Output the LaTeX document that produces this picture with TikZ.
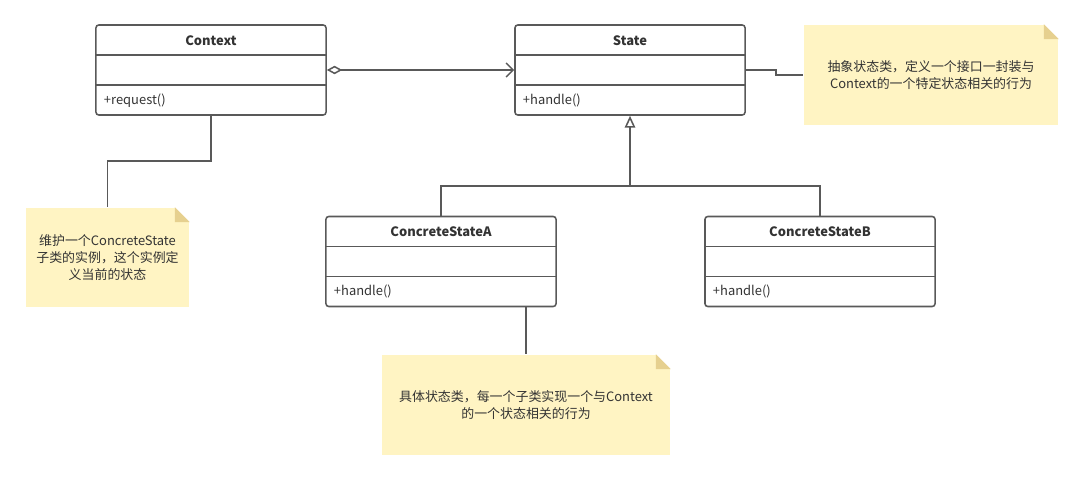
\documentclass[tikz,border=0pt]{standalone}
\usepackage{fontspec}
\setmainfont{Noto Sans CJK SC}
\usetikzlibrary{arrows.meta,positioning,calc}
\definecolor{linegray}{HTML}{595959}
\definecolor{textgray}{HTML}{333333}
\definecolor{notefill}{HTML}{FFF4C3}
\definecolor{notefold}{HTML}{E6D08F}

\begin{document}
\begin{tikzpicture}[x=0.025cm, y=-0.025cm, line width=1.1pt, color=linegray, text=textgray, font=\fontsize{9.2}{12}\selectfont,
  class box/.style={draw=linegray,rounded corners=2pt,minimum width=5.75cm,minimum height=2.25cm,inner sep=0pt},
  class name/.style={font=\fontsize{9.2}{12}\selectfont\bfseries,inner sep=0pt},
  method/.style={anchor=west,inner sep=0pt},
  note/.style={fill=notefill,inner sep=0pt,align=center}]
\useasboundingbox (0,0) rectangle (1084,480);
% classes
\node[class box] (ctx) at (211,70) {};
\node[class box] (state) at (630,70) {};
\node[class box] (csa) at (441,261.5) {};
\node[class box] (csb) at (820,261.5) {};
\foreach \c in {ctx,state,csa,csb} {
  \draw ($(\c.north west)+(0,31)$) -- ($(\c.north east)+(0,31)$);
  \draw ($(\c.north west)+(0,61)$) -- ($(\c.north east)+(0,61)$);
}
\node[class name] (ctxname) at ($(ctx.north)+(0,16)$) {Context};
\node[class name] (statename) at ($(state.north)+(0,16)$) {State};
\node[class name] (csaname) at ($(csa.north)+(0,16)$) {ConcreteStateA};
\node[class name] (csbname) at ($(csb.north)+(0,16)$) {ConcreteStateB};
\node[method] (ctxop) at ($(ctx.north west)+(8,76)$) {+request()};
\node[method] (stateop) at ($(state.north west)+(8,76)$) {+handle()};
\node[method] (csaop) at ($(csa.north west)+(8,76)$) {+handle()};
\node[method] (csbop) at ($(csb.north west)+(8,76)$) {+handle()};
% notes
\node[note,minimum width=6.35cm,minimum height=2.5cm] (n1) at (931,75) {抽象状态类，定义一个接口一封装与\\Context的一个特定状态相关的行为};
\node[note,minimum width=4.075cm,minimum height=2.475cm] (n2) at (107.5,257.5) {维护一个ConcreteState\\子类的实例，这个实例定\\义当前的状态};
\node[note,minimum width=7.2cm,minimum height=2.5cm] (n3) at (526,405) {具体状态类，每一个子类实现一个与Context\\的一个状态相关的行为};
\foreach \n in {n1,n2,n3} {
  \fill[white] ($(\n.north east)+(-15,0)$) -- (\n.north east) -- ($(\n.north east)+(0,15)$) -- cycle;
  \fill[notefold] ($(\n.north east)+(-15,0)$) -- ($(\n.north east)+(0,15)$) -- ($(\n.north east)+(-15,15)$) -- cycle;
}
% connectors
\coordinate (join) at (630,186);
\draw[{Diamond[open,length=11pt,width=6pt]}-{Straight Barb[length=5pt,width=10pt]}] (ctx.east) -- (state.west);
\draw[-{Triangle[open,length=8.5pt,width=7.5pt]}] (csa.north) |- (join) -- (state.south);
\draw (csb.north) |- (join);
\draw (state.east) -- ++(30,0) |- (n1.west);
\draw (ctx.south) -- ++(0,45) -| (n2.north);
\draw (n3.north |- csa.south) -- (n3.north);
\end{tikzpicture}
\end{document}
